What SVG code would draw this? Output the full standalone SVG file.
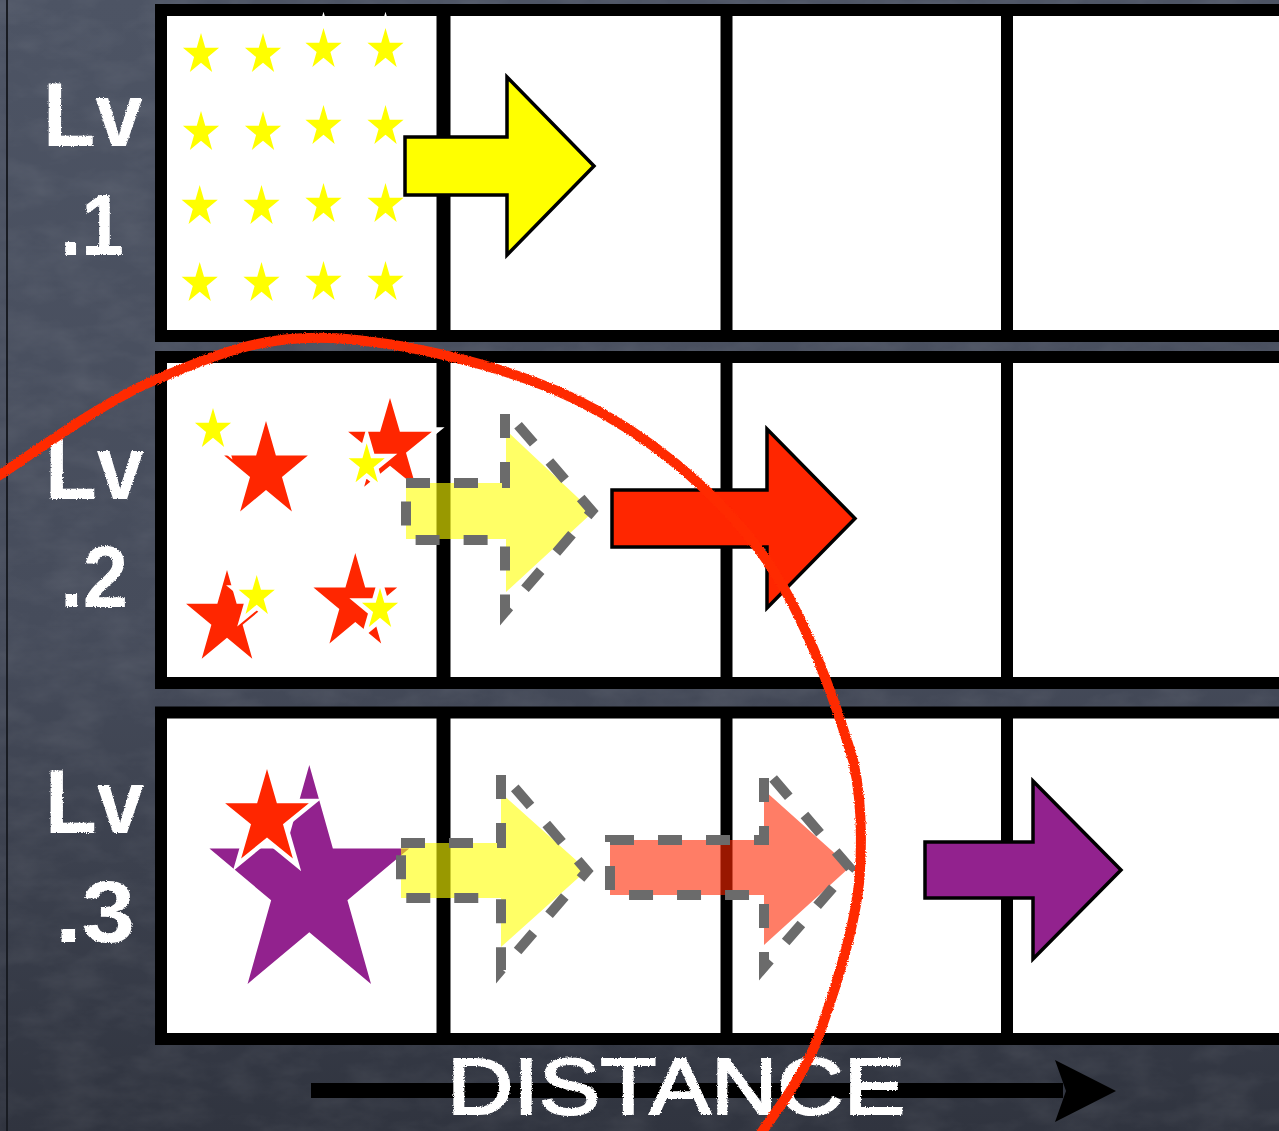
<svg xmlns="http://www.w3.org/2000/svg" xmlns:xlink="http://www.w3.org/1999/xlink" width="1279" height="1131" viewBox="0 0 1279 1131">
<style>
.cell{fill:#fff;stroke:#000;stroke-width:12}
.div{stroke:#000;stroke-width:12}
.star{stroke:#fff;stroke-width:9;paint-order:stroke;stroke-linejoin:miter;stroke-miterlimit:10}
.y{fill:#ffff00}
.r{fill:#ff2600}
.p{fill:#92228e}
.solid{stroke:#000;stroke-width:3.5;stroke-linejoin:miter}
.ghostY{fill:#ffff00;fill-opacity:0.6}
.ghostR{fill:#ff2600;fill-opacity:0.6}
.dash{fill:none;stroke:#6b6b6b;stroke-width:10;stroke-dasharray:24 24}
.chalk{fill:#fff;font-family:"Liberation Sans","DejaVu Sans",sans-serif;font-weight:bold}
.thin{font-weight:normal;stroke:#fff;stroke-width:2}
</style>
<defs>
<linearGradient id="bg" x1="0" y1="0" x2="0" y2="1">
<stop offset="0" stop-color="#4d5464"/>
<stop offset="0.55" stop-color="#464c5b"/>
<stop offset="1" stop-color="#30343f"/>
</linearGradient>
<filter id="noise" x="0" y="0" width="100%" height="100%">
<feTurbulence type="fractalNoise" baseFrequency="0.02 0.04" numOctaves="4" seed="4"/>
<feColorMatrix type="matrix" values="0 0 0 0 1  0 0 0 0 1  0 0 0 0 1  0.12 0 0 0 -0.045"/>
</filter>
<filter id="chalk" x="-5%" y="-5%" width="110%" height="110%">
<feTurbulence type="fractalNoise" baseFrequency="0.8" numOctaves="2" seed="7" result="n"/>
<feDisplacementMap in="SourceGraphic" in2="n" scale="3" xChannelSelector="R" yChannelSelector="G"/>
</filter>
<filter id="chalkLine" filterUnits="userSpaceOnUse" x="-30" y="300" width="930" height="860">
<feTurbulence type="fractalNoise" baseFrequency="0.9" numOctaves="2" seed="11" result="n"/>
<feDisplacementMap in="SourceGraphic" in2="n" scale="3" xChannelSelector="R" yChannelSelector="G"/>
</filter>
<path id="star" vector-effect="non-scaling-stroke" d="M0,-1 L0.2245,-0.309 L0.9511,-0.309 L0.3633,0.118 L0.5878,0.809 L0,0.382 L-0.5878,0.809 L-0.3633,0.118 L-0.9511,-0.309 L-0.2245,-0.309 Z"/>
</defs>

<g id="background">
<rect x="0" y="0" width="1279" height="1131" fill="url(#bg)"/>
<rect x="0" y="0" width="1279" height="1131" filter="url(#noise)"/>
<line x1="7" y1="0" x2="7" y2="1131" stroke="#181b22" stroke-width="2"/>
</g>

<g id="row1">
<rect class="cell" x="161" y="10" width="1140" height="326"/>
<line class="div" x1="443.5" y1="10" x2="443.5" y2="336" style="stroke-width:14"/>
<line class="div" x1="726.5" y1="10" x2="726.5" y2="336"/>
<line class="div" x1="1007" y1="10" x2="1007" y2="336"/>
</g>
<g id="row2">
<rect class="cell" x="161" y="357" width="1140" height="326"/>
<line class="div" x1="443.5" y1="357" x2="443.5" y2="683" style="stroke-width:14"/>
<line class="div" x1="726.5" y1="357" x2="726.5" y2="683"/>
<line class="div" x1="1007" y1="357" x2="1007" y2="683"/>
</g>
<g id="row3">
<rect class="cell" x="161" y="712.5" width="1140" height="326.5"/>
<line class="div" x1="443.5" y1="712.5" x2="443.5" y2="1039" style="stroke-width:14"/>
<line class="div" x1="726.5" y1="712.5" x2="726.5" y2="1039"/>
<line class="div" x1="1007" y1="712.5" x2="1007" y2="1039"/>
</g>

<g id="stars-lv1" class="star y">
<use xlink:href="#star" transform="translate(201,54.5) scale(19,21.5)"/>
<use xlink:href="#star" transform="translate(263,54.5) scale(19,21.5)"/>
<use xlink:href="#star" transform="translate(323.5,49.5) scale(19,21.5)"/>
<use xlink:href="#star" transform="translate(385.5,49.5) scale(19,21.5)"/>
<use xlink:href="#star" transform="translate(201,132.5) scale(19,21.5)"/>
<use xlink:href="#star" transform="translate(263,132.5) scale(19,21.5)"/>
<use xlink:href="#star" transform="translate(323.5,126.5) scale(19,21.5)"/>
<use xlink:href="#star" transform="translate(385.5,126.5) scale(19,21.5)"/>
<use xlink:href="#star" transform="translate(199.7,206.5) scale(19,21.5)"/>
<use xlink:href="#star" transform="translate(261.5,206.5) scale(19,21.5)"/>
<use xlink:href="#star" transform="translate(323.5,204.5) scale(19,21.5)"/>
<use xlink:href="#star" transform="translate(385.5,204.5) scale(19,21.5)"/>
<use xlink:href="#star" transform="translate(199.7,283.5) scale(19,21.5)"/>
<use xlink:href="#star" transform="translate(261.5,283.5) scale(19,21.5)"/>
<use xlink:href="#star" transform="translate(323.5,282.5) scale(19,21.5)"/>
<use xlink:href="#star" transform="translate(385.5,282.5) scale(19,21.5)"/>
</g>

<g id="stars-lv2" class="star">
<use class="r" xlink:href="#star" transform="translate(266,471) scale(44,50)"/>
<use class="y" xlink:href="#star" transform="translate(213,429.5) scale(19,21.5)"/>
<use class="r" xlink:href="#star" transform="translate(390,447) scale(44,49)"/>
<use class="y" xlink:href="#star" transform="translate(366.7,464.8) scale(19,21.5)"/>
<use class="r" xlink:href="#star" transform="translate(227,619) scale(43,49)"/>
<use class="y" xlink:href="#star" transform="translate(256.7,596.5) scale(19,21.5)"/>
<use class="r" xlink:href="#star" transform="translate(355.3,603) scale(44,50)"/>
<use class="y" xlink:href="#star" transform="translate(380,609.5) scale(19,21.5)"/>
</g>

<g id="stars-lv3" class="star">
<use class="p" xlink:href="#star" transform="translate(309.3,886) scale(105,121)"/>
<use class="r" xlink:href="#star" transform="translate(267,818.5) scale(44,49.5)"/>
</g>

<g id="connectors">
<path id="arrow-lv1" class="solid y" d="M405,137 L507,137 L507,77 L594,166 L507,255 L507,195 L405,195 Z"/>
<g id="arrow-lv2-ghost">
<path class="ghostY" d="M406,483 L506,483 L506,430 L593,512 L506,592 L506,539 L406,539 Z"/>
<path class="dash" d="M406,483 L505,483 L505,410 L592,511 L505,612 L505,540 L406,540 Z"/>
</g>
<path id="arrow-lv2" class="solid r" d="M612,490 L767,490 L767,429 L855,518.5 L767,608 L767,547 L612,547 Z"/>
<g id="arrow-lv3-ghost1">
<path class="ghostY" d="M401,843 L501,843 L501,793 L587,870 L501,947 L501,898 L401,898 Z"/>
<path class="dash" d="M401,843 L501,843 L501,772 L587,871 L501,970 L501,898 L401,898 Z"/>
</g>
<g id="arrow-lv3-ghost2">
<path class="ghostR" d="M610,840 L764,840 L764,790 L850,867 L764,945 L764,895 L610,895 Z"/>
<path class="dash" d="M610,840 L764,840 L764,768 L850,868 L764,967 L764,895 L610,895 Z"/>
</g>
<path id="arrow-lv3" class="solid p" d="M925,842 L1033,842 L1033,781 L1121,870 L1033,959 L1033,898 L925,898 Z"/>
</g>

<g id="labels" filter="url(#chalk)">
<text class="chalk" x="43" y="146" font-size="90" textLength="100" lengthAdjust="spacingAndGlyphs">Lv</text>
<text class="chalk" x="60" y="255" font-size="88" textLength="64" lengthAdjust="spacingAndGlyphs">.1</text>
<text class="chalk" x="45" y="499" font-size="90" textLength="99" lengthAdjust="spacingAndGlyphs">Lv</text>
<text class="chalk" x="60" y="607" font-size="88" textLength="68" lengthAdjust="spacingAndGlyphs">.2</text>
<text class="chalk" x="45" y="833" font-size="90" textLength="99" lengthAdjust="spacingAndGlyphs">Lv</text>
<text class="chalk" x="55" y="942" font-size="88" textLength="80" lengthAdjust="spacingAndGlyphs">.3</text>
</g>

<g id="axis">
<rect x="311" y="1083" width="752" height="15" fill="#000"/>
<polygon points="1055,1060 1116,1091 1055,1122 1066,1091" fill="#000"/>
<text class="chalk thin" filter="url(#chalk)" x="447" y="1114" font-size="80" textLength="458" lengthAdjust="spacingAndGlyphs">DISTANCE</text>
</g>

<g id="highlight">
<path d="M-5,478 C21.7,461.7 99.2,403.3 155,380 C210.8,356.7 259.7,334.7 330,338 C400.3,341.3 505.8,365.2 577,400 C648.2,434.8 711,487 757,547 C803,607 836.2,704.5 853,760 C861,795 862,835 860,870 C858,920 833,997 817,1040 C800.7,1082.5 769.5,1119.2 760,1135" fill="none" stroke="#ff2a00" stroke-width="10" stroke-linecap="round" filter="url(#chalkLine)"/>
</g>
</svg>
